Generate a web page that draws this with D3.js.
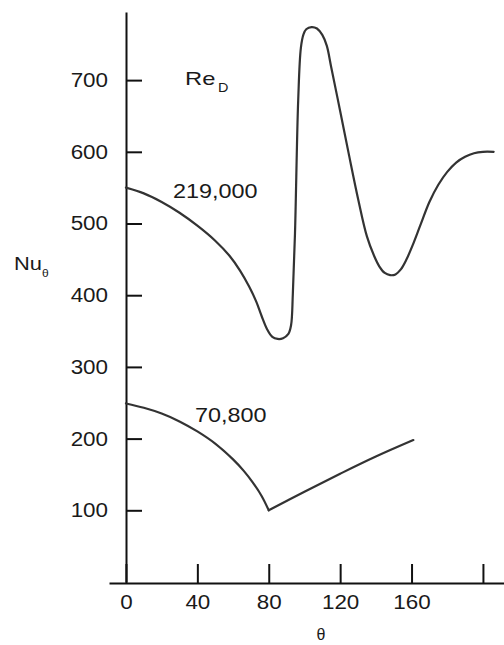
<!DOCTYPE html>
<html>
<head>
<meta charset="utf-8">
<script src="https://cdn.jsdelivr.net/npm/d3@7"></script>
<style>
  body { margin: 0; background: #fff; }
  text { font-family: "Liberation Sans", Arial, sans-serif; fill: #1a1a1a; }
</style>
</head>
<body>
<script>
// tick values
var yTicks = [100, 200, 300, 400, 500, 600, 700];
var xTicks = [0, 40, 80, 120, 160, 200];
var xTickLabels = ["0", "40", "80", "120", "160", ""];

// Re_D = 219,000
var hiTheta = [0, 10, 20, 30, 40, 50, 58, 64, 69, 73, 76, 79, 82, 85, 88, 91, 92.5, 93.5, 94.7, 96.5, 98, 99.5, 101, 104, 107, 110, 112.5, 115, 120, 125, 130, 135, 139, 142, 145, 148, 151, 154, 157, 161, 165, 170, 175, 180, 185, 190, 195, 200, 206];
var hiNu    = [550, 542, 530, 515, 497, 476, 455, 434, 412, 391, 371, 353, 342, 339, 340, 346, 358, 402, 486, 672, 745, 764, 771, 774, 772, 763, 748, 718, 657, 595, 535, 482, 455, 440, 431, 428, 429, 436, 449, 472, 498, 530, 554, 572, 585, 593, 598, 600, 600];

// Re_D = 70,800 (two branches meeting at the minimum)
var loTheta1 = [0, 10, 20, 30, 40, 50, 60, 66, 71, 76, 80];
var loNu1    = [249, 243, 235, 224, 210, 193, 171, 155, 139, 120, 100];
var loTheta2 = [80, 100, 120, 140, 161];
var loNu2    = [100, 126, 151, 175, 198];

var width = 504, height = 645;

var svg = d3.select("body").append("svg")
    .attr("width", width)
    .attr("height", height);

var x = d3.scaleLinear().domain([-9.5, 211.8]).range([109, 504]);
var y = d3.scaleLinear().domain([0, 795]).range([582, 12]);

// x axis
svg.append("g")
    .attr("transform", "translate(0,583)")
    .call(d3.axisBottom(x)
        .tickValues(xTicks)
        .tickFormat(function(d, i){ return xTickLabels[i]; })
        .tickSizeInner(-19)
        .tickSizeOuter(0)
        .tickPadding(12));

// y axis
svg.append("g")
    .attr("transform", "translate(126,0)")
    .call(d3.axisLeft(y)
        .tickValues(yTicks)
        .tickSizeInner(-16)
        .tickSizeOuter(0)
        .tickPadding(18));

svg.selectAll(".domain, .tick line")
    .attr("stroke", "#111")
    .attr("stroke-width", 2);
svg.selectAll(".tick text")
    .attr("font-size", 20)
    .attr("fill", "#1a1a1a")
    .attr("font-family", "Liberation Sans, Arial, sans-serif")
    .attr("data-s", 1.12);

function pts(t, v) {
    return t.map(function(d, i){ return [d, v[i]]; });
}

var line = d3.line()
    .x(function(d){ return x(d[0]); })
    .y(function(d){ return y(d[1]); })
    .curve(d3.curveCatmullRom.alpha(0.5));

[pts(hiTheta, hiNu), pts(loTheta1, loNu1), pts(loTheta2, loNu2)].forEach(function(p){
    svg.append("path")
        .attr("d", line(p))
        .attr("fill", "none")
        .attr("stroke", "#333")
        .attr("stroke-width", 2.2)
        .attr("stroke-linecap", "round");
});

// labels
function label(tx, px, py, size, s, anchor) {
    return svg.append("text")
        .attr("x", px).attr("y", py)
        .attr("font-size", size)
        .attr("text-anchor", anchor || "start")
        .attr("data-s", s)
        .text(tx);
}
label("219,000", 173, 198, 20, 1.17);
label("70,800", 195, 422, 20, 1.17);
label("Re", 185, 85, 19, 1.25);
label("D", 218, 92, 12, 1.2);
label("Nu", 14, 270, 19, 1.15);
label("θ", 42, 277, 11, 1.1);
label("θ", 321, 640, 16, 1.0, "middle");

// widen glyphs a little, like the reference
svg.selectAll("text").each(function(){
    var s = +d3.select(this).attr("data-s");
    var len = this.getComputedTextLength();
    if (len > 0 && s && s !== 1) {
        d3.select(this)
            .attr("textLength", len * s)
            .attr("lengthAdjust", "spacingAndGlyphs");
    }
});
</script>
</body>
</html>
